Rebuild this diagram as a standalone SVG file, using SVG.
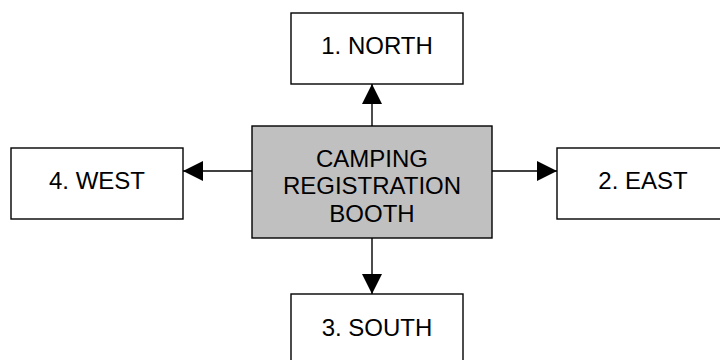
<svg xmlns="http://www.w3.org/2000/svg" width="720" height="360" viewBox="0 0 720 360">
  <style>
    .box { fill: #ffffff; stroke: #000000; stroke-width: 1.4; }
    .hub { fill: #c0c0c0; stroke: #000000; stroke-width: 1.4; }
    .lbl { font-family: "Liberation Sans", Arial, sans-serif; font-size: 24px; fill: #000000; text-anchor: middle; }
    .conn { stroke: #000000; stroke-width: 1.4; fill: none; marker-end: url(#arrow); }
  </style>
  <defs>
    <marker id="arrow" markerUnits="userSpaceOnUse" markerWidth="20" markerHeight="20" viewBox="0 0 20 20" refX="20" refY="10" orient="auto">
      <path d="M0,0 L20,10 L0,20 Z" fill="#000000"/>
    </marker>
  </defs>
  <rect width="720" height="360" fill="#ffffff"/>
  <g id="connectors">
    <line class="conn" x1="372" y1="126" x2="372" y2="84"/>
    <line class="conn" x1="492" y1="171" x2="557" y2="171"/>
    <line class="conn" x1="372" y1="238" x2="372" y2="294"/>
    <line class="conn" x1="252" y1="171" x2="183" y2="171"/>
  </g>
  <g id="booth">
    <rect class="hub" x="252" y="126" width="240" height="112"/>
    <text class="lbl" x="372" y="167">CAMPING</text>
    <text class="lbl" x="372" y="194">REGISTRATION</text>
    <text class="lbl" x="372" y="222">BOOTH</text>
  </g>
  <g id="north">
    <rect class="box" x="291" y="13" width="172" height="71"/>
    <text class="lbl" x="377" y="54">1. NORTH</text>
  </g>
  <g id="east">
    <rect class="box" x="557" y="148" width="172" height="71"/>
    <text class="lbl" x="643" y="189">2. EAST</text>
  </g>
  <g id="south">
    <rect class="box" x="291" y="294" width="172" height="71"/>
    <text class="lbl" x="377" y="336">3. SOUTH</text>
  </g>
  <g id="west">
    <rect class="box" x="11" y="148" width="172" height="71"/>
    <text class="lbl" x="97" y="189">4. WEST</text>
  </g>
</svg>
